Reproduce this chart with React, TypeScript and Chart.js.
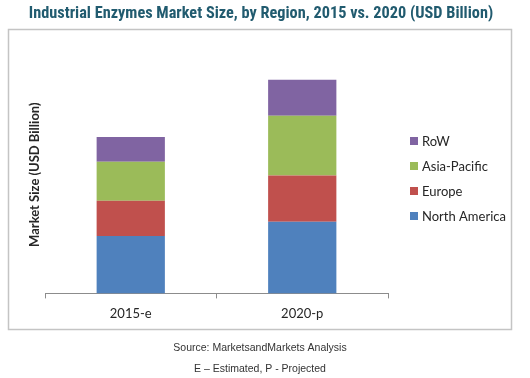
import React, { useEffect, useRef } from "react";
import { Chart, registerables } from "chart.js";

Chart.register(...registerables);

const categories = ["2015-e", "2020-p"];
const seriesNames = ["North America", "Europe", "Asia-Pacific", "RoW"];
const northAmerica = [1.69, 2.11];
const europe = [1.04, 1.37];
const asiaPacific = [1.15, 1.76];
const restOfWorld = [0.73, 1.06];
const seriesColors = ["#4f81bd", "#c0504d", "#9bbb59", "#8064a2"];
const titleText = "Industrial Enzymes Market Size, by Region, 2015 vs. 2020 (USD Billion)";
const yAxisTitle = "Market Size (USD Billion)";
const sourceLines = ["Source: MarketsandMarkets Analysis", "E \u2013 Estimated, P - Projected"];

const BODY_FONT = "Lato, 'Open Sans', sans-serif";

const decorations = {
  id: "decorations",
  beforeDraw(chart: any) {
    const ctx = chart.ctx;
    ctx.save();
    ctx.strokeStyle = "#c4c4c4";
    ctx.lineWidth = 1.5;
    ctx.strokeRect(8.5, 29.5, 503, 300);
    ctx.restore();
  },
  afterDraw(chart: any) {
    const ctx = chart.ctx;
    ctx.save();
    // title
    ctx.fillStyle = "#215b6f";
    ctx.font = "bold 16.3px 'Liberation Sans Narrow', 'Roboto Condensed', Roboto, sans-serif";
    ctx.textAlign = "center";
    ctx.textBaseline = "middle";
    ctx.fillText(titleText, 261, 14);

    // legend (reversed order)
    const ds = chart.data.datasets;
    ctx.font = "13px " + BODY_FONT;
    ctx.textAlign = "left";
    let y = 141;
    for (let i = ds.length - 1; i >= 0; i--) {
      ctx.fillStyle = ds[i].backgroundColor;
      ctx.fillRect(410, y - 4, 8, 8);
      ctx.fillStyle = "#262626";
      ctx.fillText(ds[i].label, 422, y + 0.5);
      y += 25;
    }

    // source
    ctx.fillStyle = "#333333";
    ctx.font = "10.5px 'Liberation Sans', Arial, sans-serif";
    ctx.textAlign = "center";
    ctx.fillText(sourceLines[0], 260, 348);
    ctx.fillText(sourceLines[1], 260, 369);
    ctx.restore();
  },
};

export default function App() {
  const canvasRef = useRef<HTMLCanvasElement | null>(null);

  useEffect(() => {
    if (!canvasRef.current) return;
    const values = [northAmerica, europe, asiaPacific, restOfWorld];
    const chart = new Chart(canvasRef.current, {
      type: "bar",
      data: {
        labels: categories,
        datasets: seriesNames.map((name, i) => ({
          label: name,
          data: values[i],
          backgroundColor: seriesColors[i],
          borderWidth: 0,
          categoryPercentage: 1,
          barPercentage: 0.398,
        })),
      },
      options: {
        animation: false,
        responsive: false,
        devicePixelRatio: 1,
        layout: { padding: { left: 27, right: 142, top: 56, bottom: 48 } },
        plugins: {
          legend: { display: false },
          title: { display: false },
          tooltip: { enabled: false },
        },
        scales: {
          x: {
            stacked: true,
            grid: {
              display: true,
              drawOnChartArea: false,
              drawTicks: true,
              tickLength: 5,
              color: "#8c8c8c",
              offset: true,
            },
            border: { display: true, color: "#8c8c8c", width: 1 },
            ticks: {
              color: "#262626",
              font: { family: BODY_FONT, size: 13 },
              padding: 8,
            },
          },
          y: {
            stacked: true,
            min: 0,
            max: 7,
            grid: { display: false, drawTicks: false },
            border: { display: false },
            ticks: { display: false },
            title: {
              display: true,
              text: yAxisTitle,
              color: "#262626",
              font: { family: BODY_FONT, size: 13, weight: "bold" },
              padding: { top: 0, bottom: 2.4 },
            },
          },
        },
      },
      plugins: [decorations],
    });
    return () => chart.destroy();
  }, []);

  return (
    <div style={{ position: "fixed", left: 0, top: 0, width: 530, height: 378, background: "#fff" }}>
      <canvas ref={canvasRef} width={530} height={378} style={{ display: "block" }} />
    </div>
  );
}
